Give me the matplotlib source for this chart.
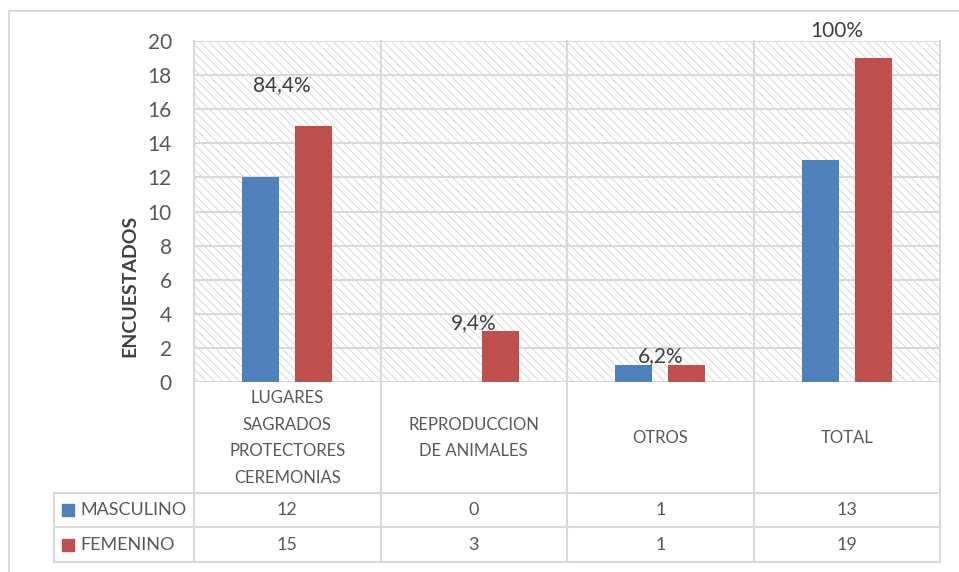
import matplotlib
matplotlib.use("Agg")
import matplotlib.pyplot as plt
from matplotlib.patches import Rectangle
from matplotlib.lines import Line2D

categories = ["LUGARES\nSAGRADOS\nPROTECTORES\nCEREMONIAS", "REPRODUCCION\nDE ANIMALES", "OTROS", "TOTAL"]
series_names = ["MASCULINO", "FEMENINO"]
masculino = [12, 0, 1, 13]
femenino = [15, 3, 1, 19]
pct_labels = ["84,4%", "9,4%", "6,2%", "100%"]
pct_y = [17.4, 3.45, 1.5, 20.6]
yticks = [0, 2, 4, 6, 8, 10, 12, 14, 16, 18, 20]

W, H = 959, 572
plt.rcParams['font.family'] = ['Lato', 'DejaVu Sans']
plt.rcParams['hatch.linewidth'] = 0.6
TXT = '#595959'
GRID = '#d9d9d9'
BLUE = '#4f81bd'
RED = '#c0504d'

fig = plt.figure(figsize=(W / 100, H / 100), dpi=100)

def fx(x):
    return x / W

def fy(y):
    return 1 - y / H

L, R, T, B = 194, 940, 41, 382
ax = fig.add_axes([fx(L), fy(B), fx(R) - fx(L), fy(T) - fy(B)])
ax.set_xlim(0, 4)
ax.set_ylim(0, 20)
for s in ax.spines.values():
    s.set_visible(False)

bg = Rectangle((0, 0), 1, 1, transform=ax.transAxes, facecolor='white',
               edgecolor='#d4d4d4', hatch='\\\\\\\\', linewidth=0, zorder=0)
ax.add_patch(bg)
for yv in yticks:
    ax.axhline(yv, color=GRID, lw=1.5, zorder=1)

xs = [i + 0.5 for i in range(len(categories))]
off, bw = 0.142, 0.198
ax.bar([x - off for x in xs], masculino, width=bw, color=BLUE, zorder=3)
ax.bar([x + off for x in xs], femenino, width=bw, color=RED, zorder=3)

dx = [-0.03, 0.0, 0.0, -0.055]
for x, t, yv, d in zip(xs, pct_labels, pct_y, dx):
    ax.text(x + d, yv, t, ha='center', va='center', fontsize=15, color='#404040', clip_on=False)

ax.set_xticks([])
ax.set_yticks(yticks)
ax.tick_params(axis='y', length=0, pad=16, labelsize=15, labelcolor=TXT)

fig.text(fx(130), fy(286), "ENCUESTADOS", rotation=90, ha='center', va='center',
         fontsize=14, fontweight='bold', color='#404040')

def hline(x0, x1, y, color=GRID, lw=1.5):
    fig.add_artist(Line2D([fx(x0), fx(x1)], [fy(y), fy(y)], color=color, lw=lw, transform=fig.transFigure))

def vline(x, y0, y1, color=GRID, lw=1.5):
    fig.add_artist(Line2D([fx(x), fx(x)], [fy(y0), fy(y1)], color=color, lw=lw, transform=fig.transFigure))

# outer chart border
hline(9, W + 5, 11, color='#d9d9d9', lw=1.5)
vline(9, 11, H + 5, color='#d9d9d9', lw=1.5)

# table lines
colx = [194, 380.5, 567, 753.5, 940]
for cx in colx:
    vline(cx, T, 562)
vline(54, 493, 562)
hline(54, 940, 493)
hline(54, 940, 527)
hline(54, 940, 562)

# category labels
for i, c in enumerate(categories):
    cxm = (colx[i] + colx[i + 1]) / 2
    fig.text(fx(cxm), fy(438), c, ha='center', va='center', fontsize=12,
             color=TXT, linespacing=1.8)

# data rows
rows_y = [510, 545]
colors = [BLUE, RED]
for name, vals, ry, col in zip(series_names, [masculino, femenino], rows_y, colors):
    fig.add_artist(Rectangle((fx(62), fy(ry + 6)), fx(12), 12 / H, color=col,
                             transform=fig.transFigure))
    fig.text(fx(80), fy(ry), name, ha='left', va='center', fontsize=13, color=TXT)
    for i, v in enumerate(vals):
        cxm = (colx[i] + colx[i + 1]) / 2
        fig.text(fx(cxm), fy(ry), str(v), ha='center', va='center', fontsize=13, color=TXT)

fig.savefig("out.png", dpi=100, facecolor='white')
